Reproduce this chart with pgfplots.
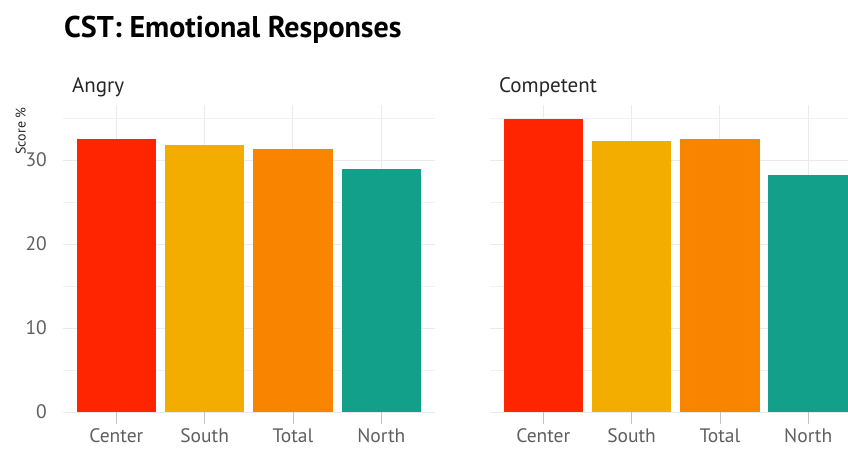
\documentclass[border=0pt]{standalone}
\usepackage{fontspec}
\setmainfont{PT Sans}
\usepackage{pgfplots}
\pgfplotsset{compat=1.18}
\definecolor{cRed}{HTML}{FF2500}
\definecolor{cYel}{HTML}{F2AD00}
\definecolor{cOra}{HTML}{F98400}
\definecolor{cTeal}{HTML}{12A08A}
\definecolor{gridc}{HTML}{EBEBEB}
\definecolor{tickc}{HTML}{4D4D4D}
\pgfplotsset{
  facet/.style={
    scale only axis, width=#1, height=307pt,
    anchor=south west,
    ymin=0, ymax=36.55,
    xmin=-0.6,
    axis line style={draw=none},
    xtick={0,1,2,3},
    xticklabels={Center,South,Total,North},
    ytick={0,10,20,30},
    minor ytick={5,15,25,35},
    xmajorgrids, ymajorgrids, yminorgrids,
    major grid style={color=gridc, line width=1pt},
    minor grid style={color=gridc!70, line width=0.6pt},
    tick align=outside,
    xtick pos=bottom, ytick pos=left,
    xtick style={color=gridc!80!black!90, line width=0.8pt},
    ytick style={draw=none},
    major tick length=12pt,
    minor tick length=0pt,
    /pgf/number format/assume math mode=true,
    ticklabel style={font=\fontsize{19.5}{19.5}\selectfont, text=tickc!90},
    xticklabel style={yshift=-3.5pt, inner sep=1pt, text height=14pt, text depth=1pt},
    yticklabel style={xshift=-1pt},
    ybar, bar shift=0pt, bar width=0.9,
    every axis plot/.append style={draw=none},
  },
}
\begin{document}
\begin{tikzpicture}[x=1pt,y=1pt]
\useasboundingbox (0,0) rectangle (848,450);
\node[anchor=base west, font=\bfseries\fontsize{30}{30}\selectfont, inner sep=0pt] at (64,412) {CST: Emotional Responses};
\node[anchor=base west, font=\fontsize{21}{21}\selectfont, text=black!85, inner sep=0pt] at (72,357) {Angry};
\node[anchor=base west, font=\fontsize{21}{21}\selectfont, text=black!85, inner sep=0pt] at (499,357) {Competent};
\node[rotate=90, anchor=south east, font=\fontsize{14}{14}\selectfont, text=black!85, inner sep=0pt] at (26,343) {Score \%};
\begin{axis}[facet=371.6pt, at={(63.3pt,38pt)}, xmax=3.607]
\addplot[fill=cRed] coordinates {(0,32.5)};
\addplot[fill=cYel] coordinates {(1,31.75)};
\addplot[fill=cOra] coordinates {(2,31.27)};
\addplot[fill=cTeal] coordinates {(3,28.9)};
\end{axis}
\begin{axis}[facet=358pt, at={(490.3pt,38pt)}, xmax=3.454, yticklabels={}]
\addplot[fill=cRed] coordinates {(0,34.85)};
\addplot[fill=cYel] coordinates {(1,32.26)};
\addplot[fill=cOra] coordinates {(2,32.46)};
\addplot[fill=cTeal] coordinates {(3,28.18)};
\end{axis}
\end{tikzpicture}
\end{document}
